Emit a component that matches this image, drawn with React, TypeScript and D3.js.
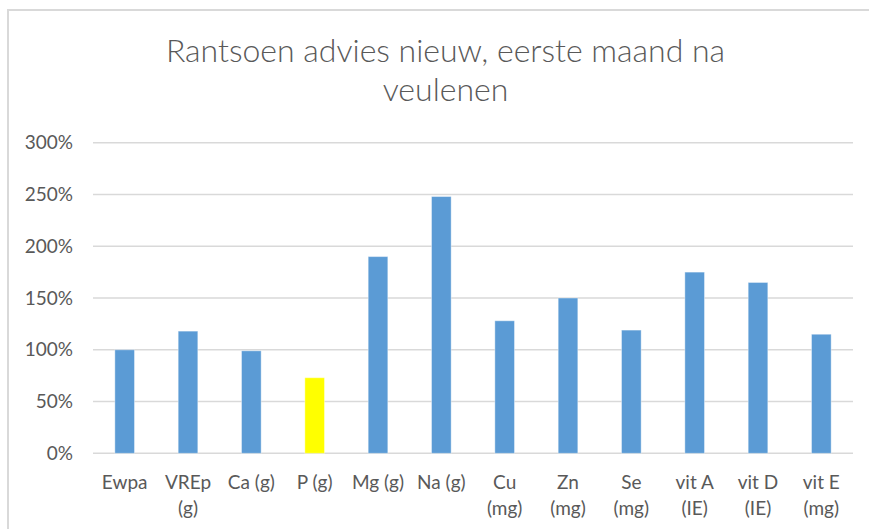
import React from "react";
import * as d3 from "d3";

const categories: string[][] = [
  ["Ewpa"],
  ["VREp", "(g)"],
  ["Ca (g)"],
  ["P (g)"],
  ["Mg (g)"],
  ["Na (g)"],
  ["Cu", "(mg)"],
  ["Zn", "(mg)"],
  ["Se", "(mg)"],
  ["vit A", "(IE)"],
  ["vit D", "(IE)"],
  ["vit E", "(mg)"],
];
const values: number[] = [1.0, 1.18, 0.99, 0.73, 1.9, 2.48, 1.28, 1.5, 1.19, 1.75, 1.65, 1.15];
const highlighted: number[] = [3];
const yTicks: number[] = [0, 0.5, 1, 1.5, 2, 2.5, 3];
const titleLines: string[] = ["Rantsoen advies nieuw, eerste maand na", "veulenen"];

const W = 869;
const H = 529;
const plotLeft = 93;
const plotRight = 853;
const plotTop = 142.7;
const plotBottom = 453.3;
const FONT = "Lato, 'Open Sans', sans-serif";
const TEXT = "#595959";

export default function App() {
  const keys = categories.map((c) => c.join(" "));
  const x = d3.scaleBand<string>().domain(keys).range([plotLeft, plotRight]).paddingInner(0.69).paddingOuter(0.345);
  const y = d3.scaleLinear().domain([0, 3]).range([plotBottom, plotTop]);
  const fmt = d3.format(".0%");
  return (
    <svg
      width={W}
      height={H}
      style={{ position: "absolute", left: 0, top: 0, background: "#fff" }}
    >
      <rect x={0} y={0} width={W} height={H} fill="#fff" />
      <rect x={8} y={10} width={W + 20} height={H + 20} fill="#fff" stroke="#D9D9D9" strokeWidth={2} />
      {titleLines.map((t, i) => (
        <text
          key={t}
          x={445.5}
          y={62 + i * 39}
          textAnchor="middle"
          fontFamily={FONT}
          fontSize={32}
          fontWeight={300}
          fill={TEXT}
        >
          {t}
        </text>
      ))}
      {yTicks.map((t) => (
        <g key={t}>
          <line x1={plotLeft} x2={plotRight} y1={y(t)} y2={y(t)} stroke="#D9D9D9" strokeWidth={1.5} />
          <text
            x={73}
            y={y(t)}
            dy="0.35em"
            textAnchor="end"
            fontFamily={FONT}
            fontSize={19}
            fill={TEXT}
          >
            {fmt(t)}
          </text>
        </g>
      ))}
      {values.map((v, i) => (
        <rect
          key={keys[i]}
          x={x(keys[i])}
          y={y(v)}
          width={x.bandwidth()}
          height={y(0) - y(v)}
          fill={highlighted.includes(i) ? "#FFFF00" : "#5B9BD5"}
          stroke="#ffffff"
          strokeOpacity={0.4}
          strokeWidth={1}
        />
      ))}
      {categories.map((c, i) => (
        <text
          key={keys[i]}
          x={(x(keys[i]) as number) + x.bandwidth() / 2}
          y={489}
          textAnchor="middle"
          fontFamily={FONT}
          fontSize={19}
          fill={TEXT}
        >
          {c.map((line, j) => (
            <tspan key={j} x={(x(keys[i]) as number) + x.bandwidth() / 2} y={489 + j * 26}>
              {line}
            </tspan>
          ))}
        </text>
      ))}
    </svg>
  );
}
